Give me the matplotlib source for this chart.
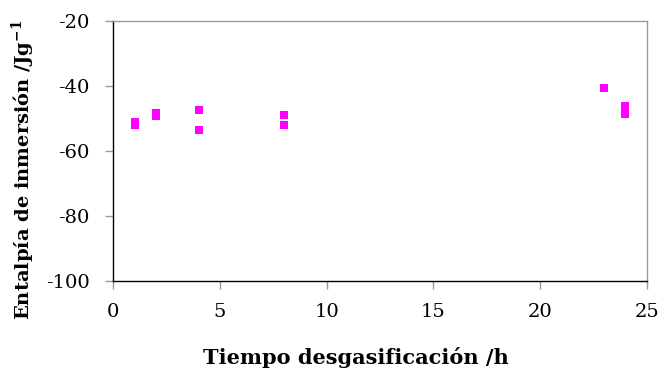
import matplotlib.pyplot as plt

# degassing time (h) and immersion enthalpy (J/g)
tiempo = [1, 1, 2, 2, 4, 4, 8, 8, 23, 24, 24]
entalpia = [-51.3, -52.0, -48.4, -49.3, -47.6, -53.5, -49.0, -52.1, -40.8, -46.2, -48.6]

plt.rcParams['font.family'] = ['DejaVu Serif']
plt.rcParams['axes.unicode_minus'] = False
plt.rcParams['mathtext.fontset'] = 'dejavuserif'

fig = plt.figure(figsize=(6.58, 3.69), dpi=100)
ax = fig.add_axes([0.1722, 0.2393, 0.8106, 0.7047])

ax.scatter(tiempo, entalpia, marker='s', s=36, color='#FF00FF', linewidths=0, zorder=3)

ax.set_xlim(0, 25)
ax.set_ylim(-100, -20)
ax.set_xticks([0, 5, 10, 15, 20, 25])
ax.set_yticks([-100, -80, -60, -40, -20])

ax.spines['left'].set_color('black')
ax.spines['bottom'].set_color('black')
ax.spines['top'].set_color('#999999')
ax.spines['right'].set_color('#999999')
for s in ax.spines.values():
    s.set_linewidth(1.0)
ax.tick_params(axis='both', direction='out', color='#999999', length=6, width=1,
               labelsize=14, pad=11)
ax.tick_params(axis='x', pad=10)

# axis titles placed by hand (Excel-style offsets)
fig.text(0.541, 0.0136, 'Tiempo desgasificación /h', fontsize=15, fontweight='bold',
         ha='center', va='baseline')
fig.text(0.036, 0.539, 'Entalpía de inmersión /Jg$^{\\mathbf{-1}}$', fontsize=14,
         fontweight='bold', rotation=90, ha='center', va='center')

fig.savefig('out.png', dpi=100)
